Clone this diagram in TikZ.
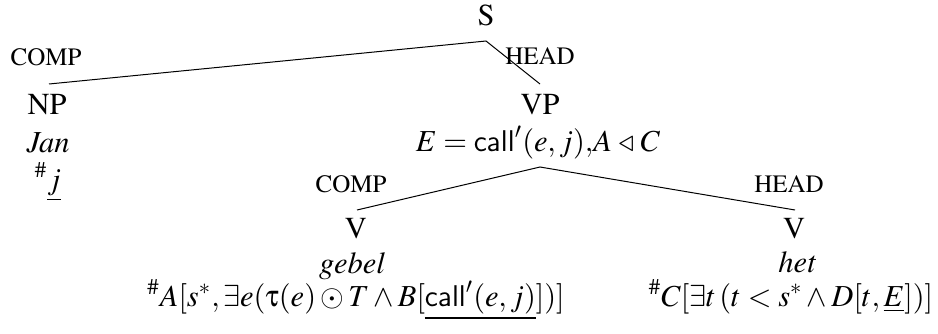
\documentclass[tikz,border=0pt]{standalone}
\usepackage[T1]{fontenc}
\usepackage{mathptmx}
\usepackage[scaled=0.92]{helvet}
\usepackage[Symbol]{upgreek}
\begin{document}
\begin{tikzpicture}[x=0.4pt,y=-0.4pt,
  every node/.style={inner sep=0pt,outer sep=0pt,anchor=base},
  cat/.style={font=\fontsize{12.2}{14}\selectfont},
  lab/.style={font=\fontsize{10}{12}\selectfont},
  branch/.style={line width=0.4pt}]
\useasboundingbox (0,0) rectangle (938,333);

% S and its daughters
\node[cat] (s) at (486,25) {S};
\coordinate (s-apex) at (486,41);
\coordinate (np-top) at (49,84);
\coordinate (vp-top) at (540,84);
\node[lab] (comp1) at (46,65) {COMP};
\node[lab] (head1) at (540,64) {HEAD};

% subject
\node[cat] (np) at (47,114) {NP};
\node[cat] (jan) at (48,152) {\itshape Jan};
\node[cat] (jsem) at (48,189) {$^{\#}\underline{j}$};

% verb phrase
\node[cat] (vp) at (540,114) {VP};
\node[cat] (vpsem) at (538,151) {$E=\mathsf{call}'(e,j){,}A\mathrel{\triangleleft}C$};
\coordinate (vp-apex) at (540,167);
\coordinate (vl-top) at (357,210);
\coordinate (vr-top) at (795,210);
\node[lab] (comp2) at (351,192) {COMP};
\node[lab] (head2) at (789,192) {HEAD};

% left verb
\node[cat] (vl) at (356,238) {V};
\node[cat] (gebel) at (352,273) {\itshape gebel};
\node[cat] (vlsem) at (356,306)
  {$^{\#}A[s^{*},\exists e(\uptau(e)\odot T\wedge B[\underline{\mathsf{call}'(e,j)}])]$};

% right verb
\node[cat] (vr) at (794,238) {V};
\node[cat] (het) at (797,272) {\itshape het};
\node[cat] (vrsem) at (791,306)
  {$^{\#}C[\exists t\,(t<s^{*}\wedge D[t,\underline{E}])]$};

% branches
\draw[branch] (np-top) -- (s-apex) -- (vp-top);
\draw[branch] (vl-top) -- (vp-apex) -- (vr-top);
\end{tikzpicture}
\end{document}
